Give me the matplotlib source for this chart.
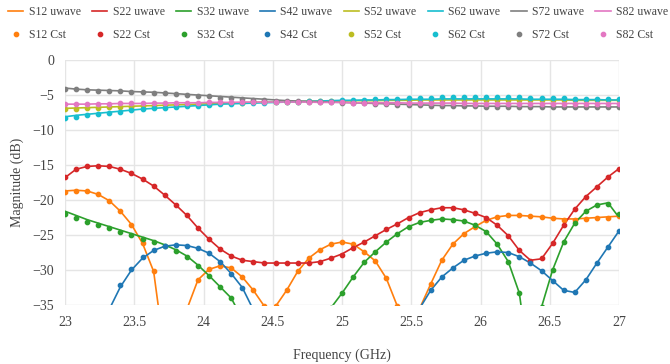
import numpy as np
import matplotlib.pyplot as plt
from matplotlib.lines import Line2D

# frequency grid (GHz), 0.08 GHz steps
freq = np.round(np.linspace(23, 27, 51), 2)

# ---- reflection / coupling, lower group ----
s12_uwave = [-18.7, -18.6, -18.7, -19.2, -20.1, -21.6, -23.5, -26.2, -30.2, -42.0,
             -48.0, -35.6, -31.4, -29.9, -29.4, -29.7, -31.0, -32.9, -35.2, -35.2,
             -32.9, -30.2, -28.3, -27.1, -26.3, -26.0, -26.3, -27.4, -28.7, -31.2,
             -35.2, -45.0, -35.5, -32.0, -28.6, -26.3, -24.8, -23.8, -22.9, -22.4,
             -22.2, -22.2, -22.3, -22.4, -22.6, -22.7, -22.7, -22.6, -22.5, -22.4, -22.3]
s12_cst = [-18.8, -18.7, -18.7, -19.2, -20.1, -21.6, -23.5, -26.2, -30.2, -42.0,
           -48.0, -35.6, -31.4, -29.9, -29.4, -29.7, -31.0, -32.9, -35.2, -35.2,
           -32.9, -30.2, -28.3, -27.1, -26.3, -26.0, -26.3, -27.4, -28.7, -31.2,
           -35.2, -45.0, -35.5, -32.0, -28.6, -26.3, -24.8, -23.8, -22.9, -22.4,
           -22.2, -22.2, -22.3, -22.4, -22.6, -22.8, -22.8, -22.7, -22.6, -22.5, -22.3]

s22_uwave = [-16.8, -15.6, -15.2, -15.1, -15.2, -15.6, -16.2, -17.0, -18.0, -19.3,
             -20.7, -22.2, -24.0, -25.6, -27.0, -28.0, -28.6, -28.8, -29.0, -29.0,
             -29.0, -29.0, -29.0, -28.8, -28.3, -27.7, -26.8, -26.0, -25.1, -24.2,
             -23.4, -22.5, -21.8, -21.4, -21.1, -21.1, -21.4, -21.9, -22.5, -23.6,
             -25.1, -27.2, -28.6, -28.4, -26.2, -23.6, -21.3, -19.5, -18.1, -16.7, -15.5]
s22_cst = [-16.7, -15.5, -15.2, -15.1, -15.2, -15.6, -16.2, -17.0, -18.0, -19.3,
           -20.7, -22.2, -24.0, -25.6, -27.0, -28.0, -28.6, -28.8, -29.0, -29.0,
           -29.0, -29.0, -29.0, -28.8, -28.3, -27.8, -26.8, -26.0, -25.1, -24.2,
           -23.4, -22.5, -21.8, -21.4, -21.1, -21.1, -21.4, -21.9, -22.5, -23.6,
           -25.1, -27.2, -28.7, -28.3, -26.2, -23.6, -21.3, -19.5, -18.1, -16.7, -15.5]

s32_uwave = [-21.6, -22.2, -22.8, -23.3, -23.8, -24.3, -24.8, -25.3, -25.8, -26.4,
             -27.1, -28.0, -29.3, -30.8, -32.4, -34.0, -37.0, -45.0, -48.0, -50.0,
             -50.0, -48.0, -45.0, -40.0, -35.4, -33.3, -31.0, -28.9, -27.4, -26.0,
             -24.8, -23.8, -23.2, -22.9, -22.7, -22.8, -23.0, -23.6, -24.5, -26.3,
             -28.8, -33.3, -45.0, -35.3, -30.0, -26.0, -23.3, -21.6, -20.7, -20.4, -22.5]
s32_cst = [-22.0, -22.6, -23.1, -23.6, -24.0, -24.5, -25.0, -25.5, -26.0, -26.6,
           -27.3, -28.2, -29.4, -30.9, -32.4, -34.0, -37.0, -45.0, -48.0, -50.0,
           -50.0, -48.0, -45.0, -40.0, -35.4, -33.3, -31.0, -28.9, -27.4, -26.0,
           -24.8, -23.8, -23.2, -22.9, -22.7, -22.8, -23.0, -23.6, -24.5, -26.3,
           -28.8, -33.3, -45.0, -35.3, -30.0, -26.0, -23.3, -21.6, -20.7, -20.6, -22.0]

s42_uwave = [-50.0, -45.0, -42.0, -39.0, -35.6, -32.4, -30.0, -28.3, -27.2, -26.6,
             -26.4, -26.5, -26.9, -27.6, -28.8, -30.5, -32.5, -35.7, -45.0, -50.0,
             -50.0, -50.0, -50.0, -50.0, -50.0, -50.0, -50.0, -50.0, -50.0, -50.0,
             -48.0, -42.0, -35.5, -32.9, -31.0, -29.7, -28.6, -28.0, -27.6, -27.4,
             -27.5, -28.1, -29.0, -30.1, -31.5, -32.9, -33.2, -31.4, -29.0, -26.7, -24.4]
s42_cst = [-50.0, -45.0, -42.0, -39.0, -35.6, -32.2, -29.9, -28.2, -27.2, -26.6,
           -26.4, -26.5, -26.9, -27.6, -28.8, -30.5, -32.5, -35.7, -45.0, -50.0,
           -50.0, -50.0, -50.0, -50.0, -50.0, -50.0, -50.0, -50.0, -50.0, -50.0,
           -48.0, -42.0, -35.5, -32.9, -31.0, -29.7, -28.6, -28.0, -27.5, -27.4,
           -27.5, -28.1, -29.0, -30.1, -31.5, -32.9, -33.1, -31.4, -29.0, -26.7, -24.4]

# ---- transmission, upper group ----
s52_uwave = [-6.9, -6.85, -6.8, -6.75, -6.7, -6.65, -6.6, -6.55, -6.5, -6.45,
             -6.4, -6.35, -6.3, -6.25, -6.2, -6.15, -6.1, -6.05, -6.0, -6.0,
             -5.95, -5.95, -5.9, -5.9, -5.85, -5.85, -5.8, -5.8, -5.8, -5.75,
             -5.75, -5.75, -5.7, -5.7, -5.7, -5.7, -5.7, -5.7, -5.7, -5.7,
             -5.7, -5.7, -5.7, -5.7, -5.7, -5.7, -5.75, -5.75, -5.75, -5.75, -5.75]
s52_cst = [-7.0, -6.95, -6.9, -6.8, -6.75, -6.7, -6.65, -6.6, -6.5, -6.45,
           -6.4, -6.35, -6.3, -6.25, -6.2, -6.15, -6.1, -6.05, -6.0, -6.0,
           -5.95, -5.95, -5.9, -5.9, -5.85, -5.85, -5.8, -5.8, -5.75, -5.75,
           -5.7, -5.7, -5.7, -5.65, -5.65, -5.65, -5.65, -5.65, -5.65, -5.65,
           -5.65, -5.65, -5.7, -5.7, -5.7, -5.7, -5.7, -5.7, -5.75, -5.75, -5.75]

s62_uwave = [-8.1, -7.9, -7.75, -7.6, -7.45, -7.3, -7.15, -7.0, -6.9, -6.8,
             -6.7, -6.6, -6.5, -6.4, -6.3, -6.25, -6.2, -6.15, -6.1, -6.05,
             -6.0, -5.95, -5.9, -5.85, -5.8, -5.75, -5.75, -5.7, -5.7, -5.65,
             -5.65, -5.6, -5.6, -5.6, -5.55, -5.55, -5.55, -5.55, -5.55, -5.55,
             -5.55, -5.55, -5.6, -5.6, -5.6, -5.6, -5.65, -5.65, -5.65, -5.7, -5.7]
s62_cst = [-8.3, -8.1, -7.9, -7.7, -7.5, -7.35, -7.2, -7.05, -6.9, -6.8,
           -6.7, -6.6, -6.5, -6.4, -6.3, -6.25, -6.2, -6.15, -6.1, -6.05,
           -6.0, -5.95, -5.9, -5.85, -5.8, -5.75, -5.7, -5.65, -5.6, -5.55,
           -5.5, -5.45, -5.4, -5.35, -5.3, -5.3, -5.25, -5.25, -5.25, -5.3,
           -5.3, -5.3, -5.35, -5.4, -5.4, -5.45, -5.5, -5.5, -5.55, -5.55, -5.6]

s72_uwave = [-4.0, -4.15, -4.25, -4.3, -4.35, -4.4, -4.5, -4.55, -4.6, -4.7,
             -4.8, -4.9, -5.0, -5.1, -5.2, -5.3, -5.4, -5.5, -5.6, -5.7,
             -5.8, -5.85, -5.9, -5.95, -6.0, -6.05, -6.1, -6.15, -6.2, -6.25,
             -6.3, -6.35, -6.4, -6.45, -6.5, -6.5, -6.55, -6.55, -6.6, -6.6,
             -6.6, -6.65, -6.65, -6.65, -6.7, -6.7, -6.7, -6.7, -6.7, -6.7, -6.7]
s72_cst = [-4.1, -4.2, -4.3, -4.35, -4.4, -4.45, -4.55, -4.6, -4.65, -4.7,
           -4.8, -4.95, -5.1, -5.2, -5.35, -5.45, -5.55, -5.65, -5.75, -5.8,
           -5.85, -5.9, -5.95, -6.0, -6.05, -6.1, -6.15, -6.2, -6.25, -6.3,
           -6.35, -6.4, -6.45, -6.5, -6.55, -6.55, -6.6, -6.6, -6.65, -6.65,
           -6.65, -6.7, -6.7, -6.7, -6.7, -6.75, -6.75, -6.75, -6.75, -6.75, -6.75]

s82_uwave = [-6.3, -6.3, -6.3, -6.25, -6.25, -6.2, -6.2, -6.2, -6.15, -6.15,
             -6.1, -6.1, -6.1, -6.05, -6.05, -6.05, -6.0, -6.0, -6.0, -6.0,
             -6.0, -6.0, -6.0, -6.05, -6.05, -6.05, -6.1, -6.1, -6.1, -6.1,
             -6.1, -6.15, -6.15, -6.15, -6.15, -6.15, -6.2, -6.2, -6.2, -6.2,
             -6.2, -6.2, -6.2, -6.2, -6.2, -6.2, -6.2, -6.2, -6.2, -6.2, -6.2]
s82_cst = [-6.3, -6.3, -6.3, -6.25, -6.25, -6.2, -6.2, -6.2, -6.15, -6.15,
           -6.1, -6.1, -6.1, -6.05, -6.05, -6.05, -6.0, -6.0, -6.0, -6.0,
           -6.0, -6.0, -6.0, -6.05, -6.05, -6.05, -6.1, -6.1, -6.1, -6.15,
           -6.15, -6.15, -6.2, -6.2, -6.2, -6.2, -6.2, -6.25, -6.25, -6.25,
           -6.25, -6.25, -6.25, -6.25, -6.25, -6.25, -6.25, -6.25, -6.25, -6.25, -6.25]

names = ["S12", "S22", "S32", "S42", "S52", "S62", "S72", "S82"]
uwave = [s12_uwave, s22_uwave, s32_uwave, s42_uwave, s52_uwave, s62_uwave, s72_uwave, s82_uwave]
cst = [s12_cst, s22_cst, s32_cst, s42_cst, s52_cst, s62_cst, s72_cst, s82_cst]
colors = ["#ff7f0e", "#d62728", "#2ca02c", "#1f77b4",
          "#bcbd22", "#17becf", "#7f7f7f", "#e377c2"]

plt.rcParams["font.family"] = ["Liberation Serif", "DejaVu Serif"]

fig = plt.figure(figsize=(6.7, 3.64), dpi=100)
ax = fig.add_axes([0.097, 0.162, 0.827, 0.673])

for name, u, c, col in zip(names, uwave, cst, colors):
    ax.plot(freq, u, color=col, lw=1.2, zorder=2)
    ax.plot(freq, c, ls="none", marker="o", ms=3.1, color=col, zorder=3)

ax.set_xlim(23, 27)
ax.set_ylim(-35, 0)
ax.set_xticks([23, 23.5, 24, 24.5, 25, 25.5, 26, 26.5, 27])
ax.set_xticklabels(["23", "23.5", "24", "24.5", "25", "25.5", "26", "26.5", "27"])
ax.set_yticks(np.arange(-35, 1, 5))
ax.set_yticklabels([str(v).replace("-", "\u2212") for v in range(-35, 1, 5)])
ax.grid(True, color="#e5e5e5", lw=1.0)
ax.set_axisbelow(True)
for s in ax.spines.values():
    s.set_visible(False)
ax.tick_params(length=0, labelsize=10, colors="#444444", pad=8)
ax.set_xlabel("Frequency (GHz)", fontsize=10, color="#444444", labelpad=14)
ax.set_ylabel("Magnitude (dB)", fontsize=10, color="#444444", labelpad=6)

# legend: lines on the first row, markers on the second
handles, labels = [], []
for name, col in zip(names, colors):
    handles.append(Line2D([], [], color=col, lw=1.2))
    labels.append(f"{name} uwave")
    handles.append(Line2D([], [], color=col, ls="none", marker="o", ms=3.1))
    labels.append(f"{name} Cst")
fig.legend(handles, labels, ncol=8, loc="upper left", bbox_to_anchor=(-0.002, 1.01),
           frameon=False, fontsize=8.5, handlelength=1.3, handletextpad=0.45,
           columnspacing=0.95, labelspacing=0.95, borderpad=0.3,
           labelcolor="#444444")

fig.savefig("out.png", dpi=100)
